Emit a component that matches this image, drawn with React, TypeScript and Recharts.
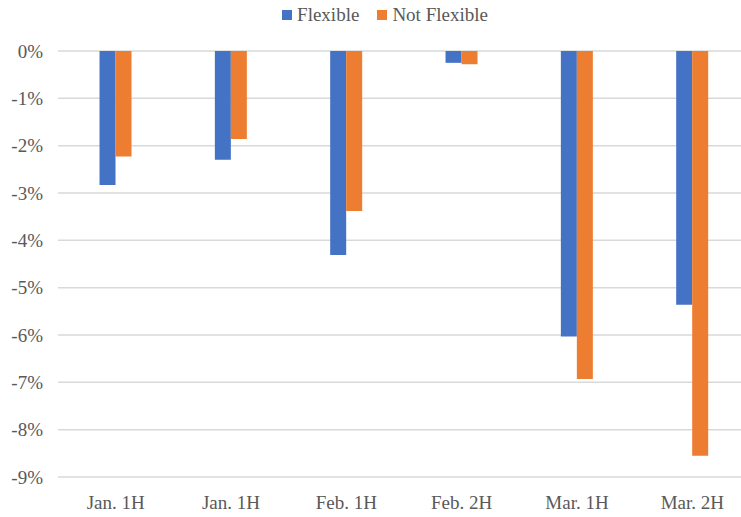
import { BarChart, Bar, XAxis, YAxis, CartesianGrid, Legend } from "recharts";

const periods = ["Jan. 1H", "Jan. 1H", "Feb. 1H", "Feb. 2H", "Mar. 1H", "Mar. 2H"];
const flexible = [-2.83, -2.3, -4.31, -0.25, -6.03, -5.36];
const notFlexible = [-2.23, -1.86, -3.38, -0.28, -6.93, -8.55];
const yTicks = [0, -1, -2, -3, -4, -5, -6, -7, -8, -9];

const series = [
  { key: "flexible", name: "Flexible", color: "#4472C4" },
  { key: "notFlexible", name: "Not Flexible", color: "#ED7D31" },
];

const data = periods.map((p, i) => ({
  id: i,
  period: p,
  flexible: flexible[i],
  notFlexible: notFlexible[i],
}));

const font = '"Liberation Serif", "Times New Roman", Times, serif';

function LegendRow() {
  return (
    <div style={{ display: "flex", justifyContent: "center", alignItems: "center", height: 30, paddingLeft: 10, gap: 18 }}>
      {series.map((s) => (
        <div key={s.key} style={{ display: "flex", alignItems: "center" }}>
          <div style={{ width: 10, height: 10, background: s.color, marginRight: 5 }} />
          <span style={{ fontFamily: font, fontSize: 19, color: "#595959" }}>{s.name}</span>
        </div>
      ))}
    </div>
  );
}

export default function App() {
  return (
    <div style={{ position: "absolute", left: 0, top: 0, width: 741, height: 517, overflow: "hidden", background: "#fff" }}>
      <BarChart
        width={760}
        height={517}
        data={data}
        margin={{ top: 21, right: 10, left: 0, bottom: 0 }}
        barCategoryGap="36%"
        barGap={0}
      >
        <CartesianGrid vertical={false} stroke="#D9D9D9" strokeWidth={1.5} />
        <XAxis
          dataKey="id"
          tickFormatter={(i: number) => periods[i]}
          axisLine={false}
          tickLine={false}
          tickSize={0}
          tickMargin={19}
          height={40}
          interval={0}
          tick={{ fill: "#595959", fontSize: 19, fontFamily: font }}
        />
        <YAxis
          domain={[-9, 0]}
          ticks={yTicks}
          tickFormatter={(v: number) => `${v}%`}
          axisLine={false}
          tickLine={false}
          tickSize={0}
          tickMargin={15}
          width={58}
          tick={{ fill: "#595959", fontSize: 19, fontFamily: font }}
        />
        <Legend verticalAlign="top" height={30} wrapperStyle={{ top: 0, left: 0, width: 760 }} content={() => <LegendRow />} />
        {series.map((s) => (
          <Bar key={s.key} dataKey={s.key} name={s.name} fill={s.color} isAnimationActive={false} />
        ))}
      </BarChart>
    </div>
  );
}
